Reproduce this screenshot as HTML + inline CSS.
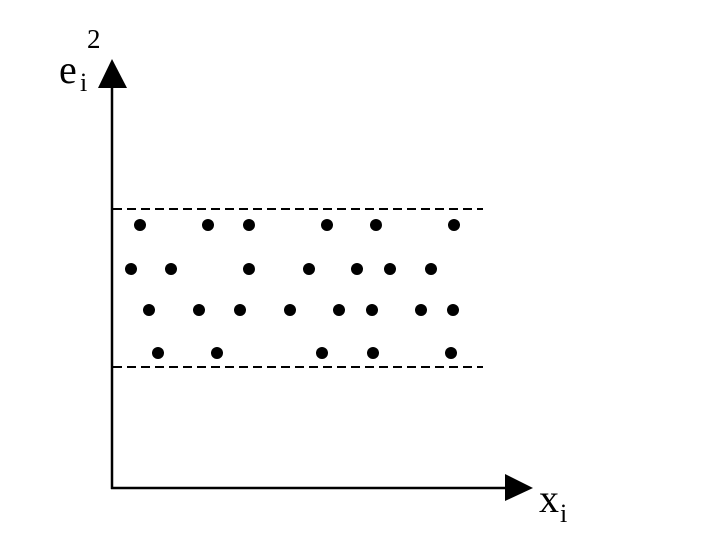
<!DOCTYPE html>
<html><head><style>html,body{margin:0;padding:0;background:#fff}svg{display:block}</style></head>
<body>
<svg width="721" height="538" viewBox="0 0 721 538" xmlns="http://www.w3.org/2000/svg">
<rect width="721" height="538" fill="#fff"/>
<g stroke="#000" stroke-width="2.5" fill="none">
<line x1="112" y1="86" x2="112" y2="489"/>
<line x1="111" y1="488" x2="507" y2="488"/>
</g>
<polygon points="112,59 98,88 127,88" fill="#000"/>
<polygon points="533,488 505,474 505,501" fill="#000"/>
<g stroke="#000" stroke-width="2" stroke-dasharray="9,5">
<line x1="113" y1="209" x2="483" y2="209"/>
<line x1="113" y1="367" x2="483" y2="367"/>
</g>
<g fill="#000">
<circle cx="140" cy="225" r="6"/><circle cx="208" cy="225" r="6"/><circle cx="249" cy="225" r="6"/><circle cx="327" cy="225" r="6"/><circle cx="376" cy="225" r="6"/><circle cx="454" cy="225" r="6"/>
<circle cx="131" cy="269" r="6"/><circle cx="171" cy="269" r="6"/><circle cx="249" cy="269" r="6"/><circle cx="309" cy="269" r="6"/><circle cx="357" cy="269" r="6"/><circle cx="390" cy="269" r="6"/><circle cx="431" cy="269" r="6"/>
<circle cx="149" cy="310" r="6"/><circle cx="199" cy="310" r="6"/><circle cx="240" cy="310" r="6"/><circle cx="290" cy="310" r="6"/><circle cx="339" cy="310" r="6"/><circle cx="372" cy="310" r="6"/><circle cx="421" cy="310" r="6"/><circle cx="453" cy="310" r="6"/>
<circle cx="158" cy="353" r="6"/><circle cx="217" cy="353" r="6"/><circle cx="322" cy="353" r="6"/><circle cx="373" cy="353" r="6"/><circle cx="451" cy="353" r="6"/>
</g>
<g font-family="Liberation Serif, serif" fill="#000">
<text x="59" y="83" font-size="40">e</text>
<text x="80" y="91" font-size="26">i</text>
<text x="87" y="48" font-size="27">2</text>
<text x="539" y="512" font-size="40">x</text>
<text x="560" y="522" font-size="26">i</text>
</g>
</svg>
</body></html>
